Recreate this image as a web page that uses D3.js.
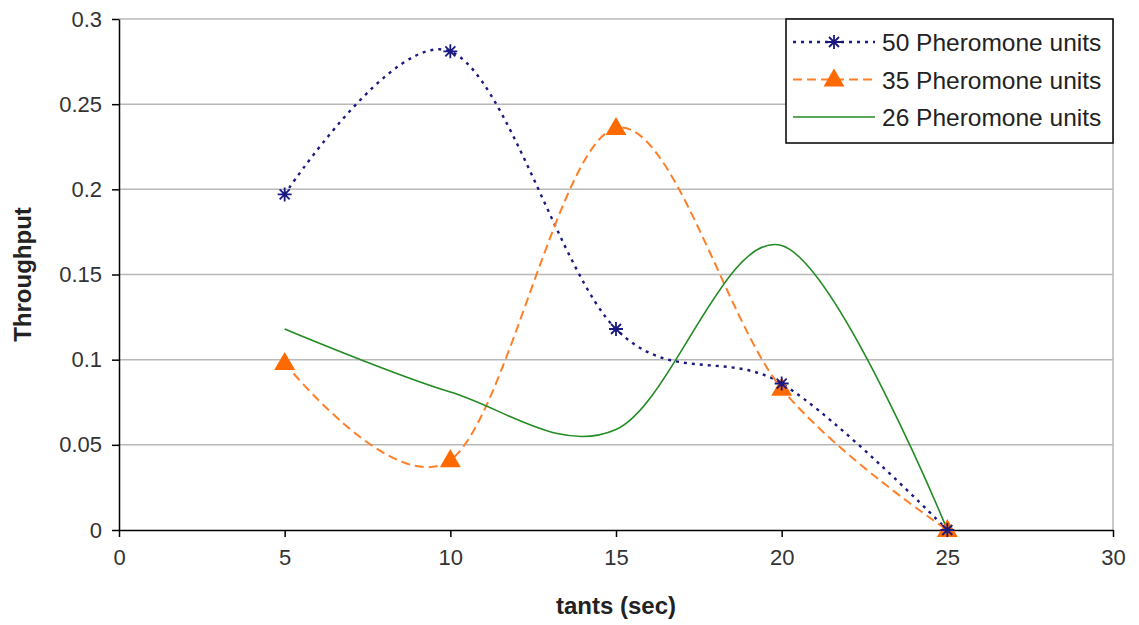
<!DOCTYPE html>
<html>
<head>
<meta charset="utf-8">
<script src="https://cdn.jsdelivr.net/npm/d3@7"></script>
<style>
  body { margin: 0; background: #fff; }
  text { font-family: "Liberation Sans", Arial, sans-serif; }
</style>
</head>
<body>
<div id="svg-container"></div>
<script>
const width = 1139
const height = 625
const margins = { top: 19, right: 26, bottom: 95, left: 119 }

// DATA
const times = [5, 10, 15, 20, 25]
const series50 = [0.197, 0.281, 0.118, 0.086, 0]
const series35 = [0.098, 0.041, 0.236, 0.083, 0]
const series26 = [0.118, 0.081, 0.059, 0.167, 0]
const seriesNames = ["50 Pheromone units", "35 Pheromone units", "26 Pheromone units"]
const xTicks = [0, 5, 10, 15, 20, 25, 30]
const yTicks = [0, 0.05, 0.1, 0.15, 0.2, 0.25, 0.3]

const svg = d3
  .select("#svg-container")
  .append("svg")
  .attr("width", width)
  .attr("height", height)

const xScale = d3
  .scaleLinear()
  .domain([0, 30])
  .range([margins.left, width - margins.right])
const yScale = d3
  .scaleLinear()
  .domain([0, 0.3])
  .range([height - margins.bottom, margins.top])

// GRID
svg
  .selectAll(".grid")
  .data(yTicks.filter((d) => d > 0))
  .join("line")
  .attr("x1", margins.left)
  .attr("x2", width - margins.right)
  .attr("y1", (d) => yScale(d))
  .attr("y2", (d) => yScale(d))
  .attr("stroke", "#b8b8b8")
  .attr("stroke-width", 1.5)

svg
  .append("line")
  .attr("x1", width - margins.right)
  .attr("x2", width - margins.right)
  .attr("y1", margins.top)
  .attr("y2", height - margins.bottom)
  .attr("stroke", "#b8b8b8")
  .attr("stroke-width", 1.5)

// AXIS
const xAxis = svg
  .append("g")
  .attr("transform", `translate(0, ${height - margins.bottom})`)
  .call(d3.axisBottom(xScale).tickValues(xTicks).tickSizeInner(7).tickSizeOuter(0).tickPadding(12))
const yAxis = svg
  .append("g")
  .attr("transform", `translate(${margins.left}, 0)`)
  .call(
    d3.axisLeft(yScale).tickValues(yTicks).tickFormat((d) => String(d))
      .tickSizeInner(7).tickSizeOuter(0).tickPadding(10)
  )

;[xAxis, yAxis].forEach((ax) => {
  ax.select(".domain").attr("stroke", "#000").attr("stroke-width", 1.5)
  ax.selectAll(".tick line").attr("stroke", "#000").attr("stroke-width", 1.5)
  ax.selectAll(".tick text")
    .style("font-family", "Liberation Sans, Arial, sans-serif")
    .style("font-size", "22px")
    .attr("fill", "#333")
})

svg
  .append("text")
  .attr("x", xScale(15))
  .attr("y", 614)
  .attr("text-anchor", "middle")
  .style("font-size", "24px")
  .style("font-weight", "bold")
  .attr("fill", "#222")
  .text("tants (sec)")

svg
  .append("text")
  .attr("transform", `translate(31, ${yScale(0.15)}) rotate(-90)`)
  .attr("text-anchor", "middle")
  .style("font-size", "24px")
  .style("font-weight", "bold")
  .attr("fill", "#222")
  .text("Throughput")

// LINES
const lineGen = d3
  .line()
  .curve(d3.curveCardinal.tension(0))
  .x((d) => xScale(d[0]))
  .y((d) => yScale(d[1]))

const seriesStyles = [
  { values: series50, color: "#1a1a80", dash: "3,5", width: 2.4 },
  { values: series35, color: "#ff7f27", dash: "9,5", width: 2 },
  { values: series26, color: "#228b22", dash: null, width: 1.6 }
]

seriesStyles.forEach((s) => {
  svg
    .append("path")
    .datum(times.map((t, i) => [t, s.values[i]]))
    .attr("fill", "none")
    .attr("stroke", s.color)
    .attr("stroke-width", s.width)
    .attr("stroke-dasharray", s.dash)
    .attr("d", lineGen)
})

// MARKERS
const starPath = "M-7,0H7M0,-7V7M-5,-5L5,5M-5,5L5,-5"
const triPath = d3.symbol().type(d3.symbolTriangle).size(190)()

svg
  .selectAll(".tri")
  .data(times.map((t, i) => [t, series35[i]]))
  .join("path")
  .attr("d", triPath)
  .attr("transform", (d) => `translate(${xScale(d[0])}, ${yScale(d[1]) + 1})`)
  .attr("fill", "#ff6a00")

svg
  .selectAll(".star")
  .data(times.map((t, i) => [t, series50[i]]))
  .join("path")
  .attr("d", starPath)
  .attr("transform", (d) => `translate(${xScale(d[0])}, ${yScale(d[1])})`)
  .attr("stroke", "#1a1a80")
  .attr("stroke-width", 1.8)
  .attr("fill", "none")

// LEGEND
const legend = svg.append("g").attr("transform", "translate(786, 19)")
legend
  .append("rect")
  .attr("width", 327)
  .attr("height", 124)
  .attr("fill", "#fff")
  .attr("stroke", "#000")
  .attr("stroke-width", 1.5)

seriesStyles.forEach((s, i) => {
  const ly = 23 + i * 37.5
  legend
    .append("line")
    .attr("x1", 7)
    .attr("x2", 89)
    .attr("y1", ly)
    .attr("y2", ly)
    .attr("stroke", s.color)
    .attr("stroke-width", s.width)
    .attr("stroke-dasharray", s.dash)
  if (i === 0) {
    legend.append("path").attr("d", starPath)
      .attr("transform", `translate(48, ${ly})`)
      .attr("stroke", s.color).attr("stroke-width", 1.8).attr("fill", "none")
  } else if (i === 1) {
    legend.append("path").attr("d", triPath)
      .attr("transform", `translate(48, ${ly + 1})`)
      .attr("fill", "#ff6a00")
  }
  legend
    .append("text")
    .attr("x", 96)
    .attr("y", ly + 9)
    .style("font-size", "24.5px")
    .attr("fill", "#222")
    .text(seriesNames[i])
})
</script>
</body>
</html>
